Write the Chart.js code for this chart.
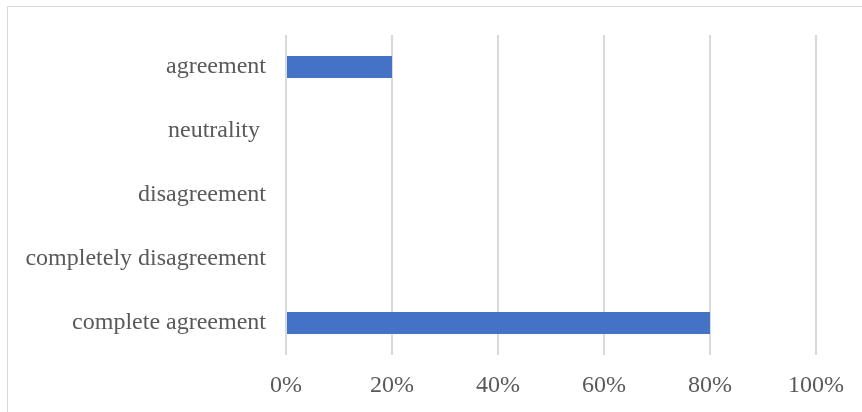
<!DOCTYPE html>
<html>
<head>
<meta charset="utf-8">
<script src="https://cdn.jsdelivr.net/npm/chart.js@4"></script>
<style>
  html, body { margin: 0; padding: 0; background: #fff; overflow: hidden; }
  #frame {
    position: absolute; left: 7px; top: 6px; width: 900px; height: 460px;
    border: 1.5px solid #d9d9d9; box-sizing: border-box;
  }
  #wrap { position: absolute; left: 0; top: 0; width: 862px; height: 412px; }
</style>
</head>
<body>
<div id="frame"></div>
<div id="wrap"><canvas id="survey-chart" width="862" height="412"></canvas></div>
<script>
// Survey answers, top row first
const answers = ['agreement', 'neutrality ', 'disagreement', 'completely disagreement', 'complete agreement'];
const shares = [20, 0, 0, 0, 80];
const percentTicks = [0, 20, 40, 60, 80, 100];

const textColor = '#595959';
const gridColor = '#d9d9d9';
const labelFont = { family: '"Liberation Serif", "Times New Roman", serif', size: 24 };

new Chart(document.getElementById('survey-chart'), {
  type: 'bar',
  data: {
    labels: answers,
    datasets: [{
      data: shares,
      backgroundColor: '#4472c4',
      borderWidth: 0,
      barPercentage: 0.34,
      categoryPercentage: 1
    }]
  },
  options: {
    indexAxis: 'y',
    responsive: false,
    animation: false,
    layout: { padding: { top: 35, right: 46, left: 0, bottom: 0 } },
    plugins: { legend: { display: false }, tooltip: { enabled: false } },
    scales: {
      x: {
        min: percentTicks[0],
        max: percentTicks[percentTicks.length - 1],
        afterBuildTicks: (scale) => { scale.ticks = percentTicks.map(v => ({ value: v })); },
        afterFit: (scale) => { scale.height = 57; },
        grid: { color: gridColor, lineWidth: 2, drawTicks: false },
        border: { display: false },
        ticks: {
          color: textColor,
          font: labelFont,
          padding: 16,
          callback: (v) => v + '%'
        }
      },
      y: {
        afterFit: (scale) => { scale.width = 286; },
        grid: { display: false, drawTicks: false },
        border: { display: false },
        ticks: { color: textColor, font: labelFont, padding: 20 }
      }
    }
  }
});
</script>
</body>
</html>
